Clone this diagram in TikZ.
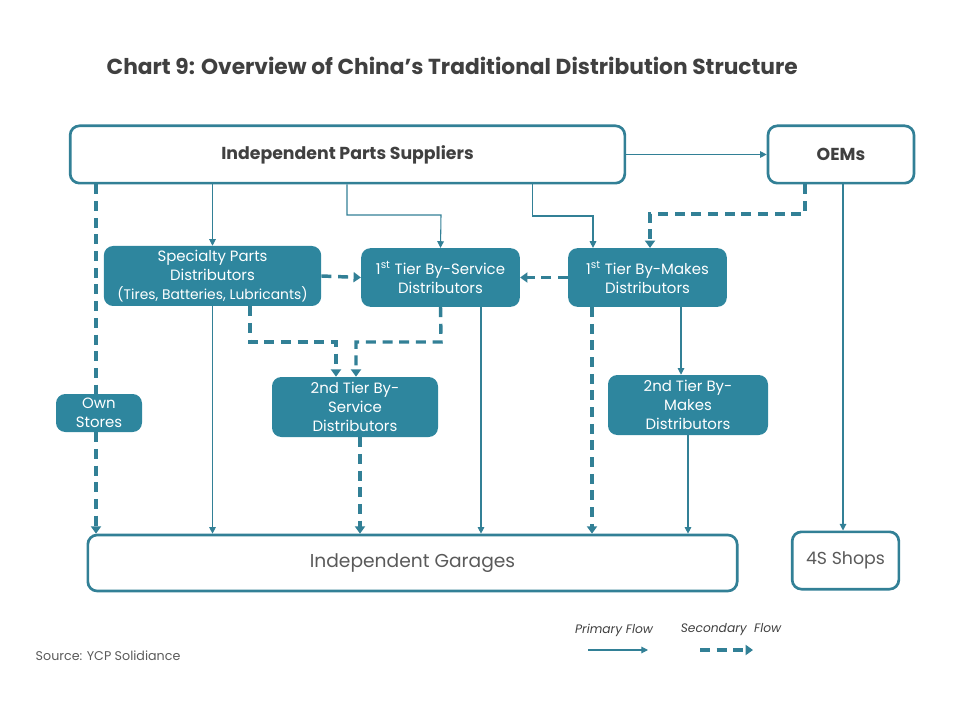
\documentclass[tikz,border=0pt]{standalone}
\usepackage{fontspec}
\setmainfont{Poppins}
\usetikzlibrary{arrows.meta,calc,positioning}
\definecolor{ycpteal}{RGB}{46,134,158}
\definecolor{ycpline}{RGB}{50,128,150}
\definecolor{inkgray}{RGB}{64,64,64}
\definecolor{softgray}{RGB}{90,90,90}

\begin{document}
\begin{tikzpicture}[x=0.75pt, y=-0.75pt,
  every node/.style={font=\fontsize{11.2}{14.3}\selectfont},
  outbox/.style={draw=ycpline, line width=2pt, rounded corners=7pt, fill=white,
    inner sep=0pt, align=center, text=inkgray},
  distbox/.style={fill=ycpteal, rounded corners=7pt, inner sep=0pt, align=center, text=white},
  primary/.style={draw=ycpline, line width=0.8pt, -{Triangle[length=5pt,width=5pt]}},
  secondary/.style={draw=ycpline, line width=2.6pt, dash pattern=on 7.5pt off 5pt,
    -{Triangle[length=5.5pt,width=7.5pt]}}]

  \useasboundingbox (0,0) rectangle (960,720);

  % ========== TITLE ==========
  \node[anchor=west, text=inkgray, font=\fontsize{16.3}{19}\selectfont\bfseries]
    (title) at (102,66) {Chart 9: Overview of China’s Traditional Distribution Structure};

  % ========== TOP ROW ==========
  \node[outbox, minimum width=416pt, minimum height=43pt, font=\fontsize{13}{15}\selectfont\bfseries]
    (ips) at (347.5,154.5) {Independent Parts Suppliers};
  \node[outbox, minimum width=109.5pt, minimum height=43pt, font=\fontsize{13}{15}\selectfont\bfseries]
    (oem) at (841,154.5) {OEMs};

  % ========== DISTRIBUTORS ==========
  \node[distbox, minimum width=163pt, minimum height=45pt] (spec) at (212.5,276)
    {Specialty Parts\\Distributors\\{\fontsize{10.4}{13}\selectfont(Tires, Batteries, Lubricants)}};
  \node[distbox, minimum width=119pt, minimum height=44pt] (svc) at (440.5,277.5)
    {1\textsuperscript{st} Tier By-Service\\Distributors};
  \node[distbox, minimum width=119pt, minimum height=44pt] (mak) at (647.5,277.5)
    {1\textsuperscript{st} Tier By-Makes\\Distributors};
  \node[distbox, minimum width=124.5pt, minimum height=45pt] (svctwo) at (355,407)
    {2nd Tier By-\\Service\\Distributors};
  \node[distbox, minimum width=120pt, minimum height=45pt] (maktwo) at (688,405)
    {2nd Tier By-\\Makes\\Distributors};
  \node[distbox, minimum width=64.5pt, minimum height=28.5pt] (own) at (99,413)
    {Own\\Stores};

  % ========== BOTTOM ROW ==========
  \node[outbox, minimum width=487pt, minimum height=42pt, font=\fontsize{14}{16}\selectfont, text=softgray]
    (gar) at (412.5,563) {Independent Garages};
  \node[outbox, minimum width=80pt, minimum height=43pt, font=\fontsize{13}{15}\selectfont, text=softgray]
    (shop) at (845.5,560.5) {4S Shops};

  % ========== PRIMARY FLOWS ==========
  \draw[primary] (ips.east) -- (oem.west);
  \draw[primary] (ips.south -| spec.north) -- (spec.north);
  \draw[primary] (ips.south -| 347,0) -- (347,215) -- (441,215) -- (svc.north);
  \draw[primary] (ips.south -| 532.5,0) -- (532.5,216) -- (593,216) -- (mak.north -| 593,0);
  \draw[primary] (spec.south) -- (gar.north -| spec.south);
  \draw[primary] (svc.south -| 481,0) -- (gar.north -| 481,0);
  \draw[primary] (mak.south -| 681,0) -- (maktwo.north -| 681,0);
  \draw[primary] (maktwo.south) -- (gar.north -| maktwo.south);
  \draw[primary] (oem.south -| 843,0) -- (shop.north -| 843,0);

  % ========== SECONDARY FLOWS ==========
  \draw[secondary, -] (ips.south -| 96,0) -- (own.north -| 96,0);
  \draw[secondary] (own.south -| 96,0) -- (gar.north -| 96,0);
  \draw[secondary] (oem.south -| 805,0) -- (805,214) -- (650,214) -- (mak.north -| 650,0);
  \draw[secondary] (spec.east) -- (svc.west);
  \draw[secondary] (mak.west) -- (svc.east);
  \draw[secondary] (spec.south -| 250,0) -- (250,342) -- (336,342) -- (svctwo.north -| 336,0);
  \draw[secondary] (svc.south) -- (441,342) -- (356,342) -- (svctwo.north -| 356,0);
  \draw[secondary] (svctwo.south -| 360,0) -- (gar.north -| 360,0);
  \draw[secondary] (mak.south -| 592,0) -- (gar.north -| 592,0);

  % ========== LEGEND ==========
  \node[text=inkgray, font=\fontsize{9.2}{11}\selectfont\itshape] (lgprim) at (614,630) {Primary Flow};
  \node[text=inkgray, font=\fontsize{9.2}{11}\selectfont\itshape] (lgsec) at (731,630) {Secondary~ Flow};
  \coordinate (lgprima) at (588,650);
  \coordinate (lgprimb) at (648,650);
  \coordinate (lgseca) at (700,650);
  \coordinate (lgsecb) at (753,650);
  \draw[primary] (lgprima) -- (lgprimb);
  \draw[secondary] (lgseca) -- (lgsecb);

  % Source
  \node[anchor=west, text=softgray, font=\fontsize{9.5}{11}\selectfont] (src) at (31,656) {Source: YCP Solidiance};

\end{tikzpicture}
\end{document}
